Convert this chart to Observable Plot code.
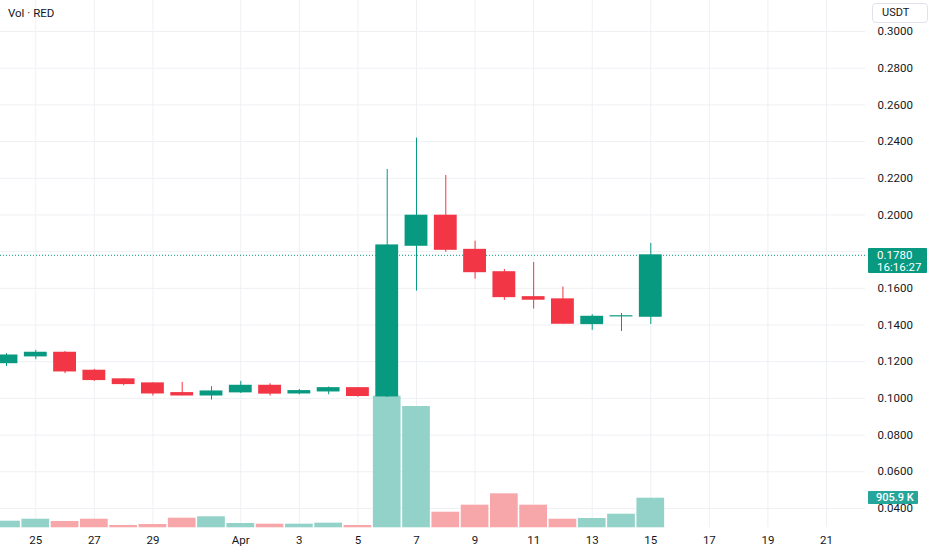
<!DOCTYPE html>
<html>
<head>
<meta charset="utf-8">
<script src="https://cdn.jsdelivr.net/npm/d3@7"></script>
<script src="https://cdn.jsdelivr.net/npm/@observablehq/plot@0.6"></script>
<style>
  html, body { margin: 0; padding: 0; background: #ffffff; }
  #wrap { position: relative; width: 932px; height: 550px; overflow: hidden; font-family: Roboto, sans-serif; color: #131722; }
  #wrap svg { position: absolute; left: 0; top: 0; }
  .lbl { position: absolute; color: #fff; font-size: 11.5px; line-height: 12px; box-sizing: border-box; }
</style>
</head>
<body>
<div id="wrap"></div>
<script>
// ---- data ----
const dates = ["2024-03-24","2024-03-25","2024-03-26","2024-03-27","2024-03-28","2024-03-29","2024-03-30","2024-03-31",
  "2024-04-01","2024-04-02","2024-04-03","2024-04-04","2024-04-05","2024-04-06","2024-04-07","2024-04-08",
  "2024-04-09","2024-04-10","2024-04-11","2024-04-12","2024-04-13","2024-04-14","2024-04-15"];
const open  = [0.1192,0.1229,0.1249,0.1151,0.1104,0.1082,0.1029,0.1016,0.1033,0.1069,0.1027,0.1038,0.1056,0.1011,0.1832,0.1996,0.1810,0.1688,0.1552,0.1540,0.1405,0.1447,0.1445];
const high  = [0.1244,0.1262,0.1256,0.1158,0.1107,0.1085,0.1087,0.1064,0.1093,0.1080,0.1049,0.1062,0.1058,0.2248,0.2419,0.2215,0.1857,0.1703,0.1741,0.1607,0.1456,0.1463,0.1845];
const low   = [0.1174,0.1211,0.1135,0.1093,0.1069,0.1013,0.1014,0.0991,0.1027,0.1013,0.1020,0.1020,0.1007,0.1005,0.1585,0.1796,0.1650,0.1534,0.1487,0.1405,0.1371,0.1365,0.1403];
const close = [0.1234,0.1249,0.1147,0.1100,0.1078,0.1027,0.1016,0.1038,0.1069,0.1026,0.1040,0.1056,0.1013,0.1834,0.1996,0.1810,0.1688,0.1552,0.1538,0.1407,0.1445,0.1448,0.1780];
const volume = [202000,263000,193000,263000,70000,101000,294000,337000,132000,110000,110000,141000,70000,4027000,3712000,477000,692000,1040000,692000,263000,285000,416000,905900];

const xTickDates = ["2024-03-25","2024-03-27","2024-03-29","2024-04-01","2024-04-03","2024-04-05","2024-04-07","2024-04-09",
  "2024-04-11","2024-04-13","2024-04-15","2024-04-17","2024-04-19","2024-04-21"];
const yTicks = [0.04,0.06,0.08,0.10,0.12,0.14,0.16,0.18,0.20,0.22,0.24,0.26,0.28,0.30];
const titleText = "Vol · RED";
const currency = "USDT";
const lastPriceText = "0.1780";
const countdownText = "16:16:27";
const lastVolumeText = "905.9 K";

// ---- build ----
const GREEN = "#089981", RED = "#f23645";
const VGREEN = "#92d2c8", VRED = "#f7a7aa";
const DAY = 864e5;
const rows = dates.map((d, i) => ({
  date: new Date(d), open: open[i], high: high[i], low: low[i], close: close[i], volume: volume[i],
  up: close[i] >= open[i]
}));
const lastClose = close[close.length - 1];
const xTicks = xTickDates.map(d => new Date(d));
const xFmt = d => d.getUTCDate() === 1 ? d3.utcFormat("%b")(d) : String(d.getUTCDate());
// tick labels hidden behind the last-price label (as the reference does)
const yLabelTicks = yTicks.filter(t => Math.abs(t - lastClose) > 0.006);

const W = 932, H = 550, MR = 67, MB = 23;
const xDomain = [new Date("2024-03-24"), new Date("2024-04-21")];
const xOpt = {type: "utc", domain: xDomain, range: [6, 826]};
const yOpt = {domain: [0.04, 0.30], range: [508, 31]};
const baseStyle = {background: "transparent", fontFamily: "Roboto, sans-serif", fontSize: "11.5px", color: "#131722", overflow: "visible"};
const common = {width: W, height: H, marginTop: 0, marginRight: MR, marginBottom: MB, marginLeft: 0, style: baseStyle};

// layer 1: grid + axes
const gridPlot = Plot.plot({
  ...common, x: xOpt, y: yOpt,
  marks: [
    Plot.gridX(xTicks, {stroke: "#eef0f4", strokeOpacity: 1}),
    Plot.gridY(yTicks, {stroke: "#eef0f4", strokeOpacity: 1}),
    Plot.axisY(yLabelTicks, {anchor: "right", tickSize: 0, tickPadding: 12, tickFormat: d3.format(".4f"), fill: "#131722"}),
    Plot.axisX(xTicks, {anchor: "bottom", tickSize: 0, tickPadding: 8, tickFormat: xFmt, fill: "#131722"})
  ]
});

// layer 2: volume
const volPlot = Plot.plot({
  ...common, x: {...xOpt, axis: null},
  y: {domain: [0, 905900], range: [527.3, 497.7], axis: null},
  marks: [
    Plot.rectY(rows, {
      x1: d => new Date(+d.date - 0.49 * DAY), x2: d => new Date(+d.date + 0.49 * DAY),
      y: "volume", fill: d => d.up ? VGREEN : VRED, insetLeft: 0.5, insetRight: 0.5
    })
  ]
});

// layer 3: candles
const pricePlot = Plot.plot({
  ...common, x: {...xOpt, axis: null}, y: {...yOpt, axis: null},
  marks: [
    Plot.ruleY([lastClose], {stroke: GREEN, strokeDasharray: "1,2", strokeWidth: 1}),
    Plot.ruleX(rows, {x: "date", y1: "low", y2: "high", stroke: d => d.up ? GREEN : RED, strokeWidth: 1}),
    Plot.rect(rows, {
      x1: d => new Date(+d.date - 0.39 * DAY), x2: d => new Date(+d.date + 0.39 * DAY),
      y1: "open", y2: "close", fill: d => d.up ? GREEN : RED, insetTop: -0.5, insetBottom: -0.5
    })
  ]
});

const wrap = document.getElementById("wrap");
wrap.appendChild(gridPlot);
wrap.appendChild(volPlot);
wrap.appendChild(pricePlot);

// HTML labels positioned with the library's scales
const ys = pricePlot.scale("y");
const vs = volPlot.scale("y");

const title = document.createElement("div");
title.textContent = titleText;
title.style.cssText = "position:absolute;left:8px;top:6px;font-size:11.5px;color:#131722;";
wrap.appendChild(title);

const cur = document.createElement("div");
cur.textContent = currency;
cur.style.cssText = "position:absolute;left:872px;top:3px;width:56px;height:20px;box-sizing:border-box;border:1px solid #e0e3eb;border-radius:4px;font-size:11px;line-height:18px;padding-left:9px;color:#131722;background:#fff;";
wrap.appendChild(cur);

const py = ys.apply(lastClose);
const pl = document.createElement("div");
pl.className = "lbl";
pl.innerHTML = lastPriceText + "<br>" + countdownText;
pl.style.cssText += `left:868px;top:${py - 7}px;width:59px;height:25px;background:${GREEN};padding:1px 0 0 9px;border-radius:1px;`;
wrap.appendChild(pl);

const vy = vs.apply(volume[volume.length - 1]);
const vl = document.createElement("div");
vl.className = "lbl";
vl.textContent = lastVolumeText;
vl.style.cssText += `left:868px;top:${vy - 6.5}px;width:50px;height:13px;background:#26a69a;padding:0 0 0 8px;font-size:11px;line-height:13px;font-weight:500;border-radius:1px;`;
wrap.appendChild(vl);
</script>
</body>
</html>
